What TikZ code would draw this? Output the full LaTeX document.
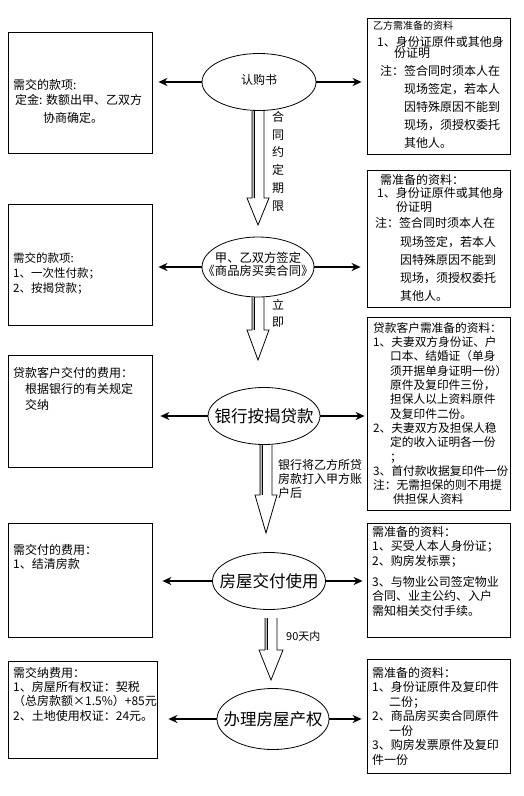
\documentclass[tikz,border=0pt]{standalone}
\usepackage{fontspec}
\setmainfont{Noto Sans CJK SC}
\usetikzlibrary{shapes.geometric}
\usetikzlibrary{arrows.meta}
\usetikzlibrary{calc}
\tikzstyle{box}=[draw, line width=0.8pt, inner sep=0pt]
\tikzstyle{stage}=[draw, ellipse, fill=white, line width=0.8pt, inner sep=0pt]
\tikzstyle{note}=[anchor=north west, align=left, inner sep=0pt]
\tikzstyle{tag}=[anchor=north, align=center, inner sep=0pt]
\tikzstyle{link}=[line width=1.5pt, -{Stealth[length=9pt, width=8pt]}]
\tikzstyle{hollow}=[line width=0.8pt]
\newcommand{\txtsize}[2]{\fontsize{#1}{#2}\selectfont}
\newcommand{\blockarrow}[4]{%
  \fill[gray!55] ($(#1)+(-6,0)$) rectangle ($(#2)+(-3.5,-#4)$);
  \draw[hollow] ($(#1)+(-6,0)$) -- ($(#2)+(-6,-#4)$) -- ($(#2)+(-#3,-#4)$) -- (#2)
    -- ($(#2)+(#3,-#4)$) -- ($(#2)+(6,-#4)$) -- ($(#1)+(6,0)$);
  \draw[hollow] ($(#1)+(-3.5,0)$) -- ($(#2)+(-3.5,-#4)$);
}

\begin{document}
\begin{tikzpicture}[x=1pt, y=-1pt]
  \useasboundingbox (0,0) rectangle (524,796);

  \node[box, minimum width=144pt, minimum height=121pt] (pay1) at (80,92.5) {};
  \node[box, minimum width=144pt, minimum height=121pt] (pay2) at (80,264.5) {};
  \node[box, minimum width=144pt, minimum height=112pt] (pay3) at (80,411) {};
  \node[box, minimum width=144pt, minimum height=114pt] (pay4) at (80,580) {};
  \node[box, minimum width=149pt, minimum height=97pt] (pay5) at (82.5,709.5) {};

  \node[box, minimum width=143pt, minimum height=136pt] (need1) at (438.5,86) {};
  \node[box, minimum width=143pt, minimum height=137pt] (need2) at (438.5,238.5) {};
  \node[box, minimum width=143pt, minimum height=193pt] (need3) at (438.5,413.5) {};
  \node[box, minimum width=143pt, minimum height=114pt] (need4) at (438.5,580) {};
  \node[box, minimum width=143pt, minimum height=114pt] (need5) at (438.5,716) {};

  \node[stage, minimum width=114pt, minimum height=57pt] (sub) at (259,82) {};
  \node[stage, minimum width=112pt, minimum height=60pt] (sign) at (258,267) {};
  \node[stage, minimum width=112pt, minimum height=57pt] (loan) at (264,416) {};
  \node[stage, minimum width=113pt, minimum height=57pt] (hand) at (269,581) {};
  \node[stage, minimum width=112pt, minimum height=61pt] (deed) at (273,719) {};

  \node[font=\txtsize{12}{14}, yshift=2pt] (subtxt) at (sub) {认购书};
  \node[align=center, font=\txtsize{12.3}{13}, yshift=3pt] (signtxt) at (sign) {甲、乙双方签定\\《商品房买卖合同》};
  \node[font=\txtsize{16.5}{18}] (loantxt) at (loan) {银行按揭贷款};
  \node[font=\txtsize{16.5}{18}] (handtxt) at (hand) {房屋交付使用};
  \node[font=\txtsize{16.5}{18}] (deedtxt) at (deed) {办理房屋产权};

  \draw[link, shorten >=6pt] (sub.west) -- (sub.west -| pay1.east);
  \draw[link, shorten >=5pt] (sub.east) -- (sub.east -| need1.west);
  \draw[link, shorten >=6pt] (sign.west) -- (sign.west -| pay2.east);
  \draw[link, shorten >=6pt] (sign.east) -- (sign.east -| need2.west);
  \draw[link, shorten >=8pt] (loan.west) -- (loan.west -| pay3.east);
  \draw[link, shorten >=2pt] (loan.east) -- (loan.east -| need3.west);
  \draw[link, shorten >=10pt] (hand.west) -- (hand.west -| pay4.east);
  \draw[link, shorten >=4pt] (hand.east) -- (hand.east -| need4.west);
  \draw[link, shorten >=11pt] (deed.west) -- (deed.west -| pay5.east);
  \draw[link, shorten >=5pt] (deed.east) -- (deed.east -| need5.west);

  \coordinate (a1t) at (258,225);
  \coordinate (a2t) at (258,360);
  \coordinate (a3t) at (266,533);
  \coordinate (a4t) at (271,680);
  \coordinate (a1s) at (sub.south -| a1t);
  \coordinate (a2s) at (sign.south -| a2t);
  \coordinate (a3s) at (loan.south -| a3t);
  \coordinate (a4s) at ($(hand.south -| a4t)+(0,8)$);
  \blockarrow{a1s}{a1t}{11}{27}
  \blockarrow{a2s}{a2t}{11}{30}
  \blockarrow{a3s}{a3t}{11}{38}
  \blockarrow{a4s}{a4t}{12}{30}

  \node[tag, font=\txtsize{12}{17.8}] (term) at (278,111) {合\\同\\约\\定\\期\\限};
  \node[tag, font=\txtsize{12}{17}] (now) at (278,299) {立\\即};
  \node[note, font=\txtsize{12}{14}] (transfer) at (278,459) {银行将乙方所贷\\房款打入甲方账\\户后};
  \node[note, font=\txtsize{11}{13}] (days) at (286,631.5) {90天内};

  \node[note, font=\txtsize{12}{16}] (pay1txt) at (13,79) {%
    需交的款项:\\[-1pt]
    \hspace*{2pt}定金: 数额出甲、乙双方\\[2pt]
    \hspace*{30pt}协商确定。};
  \node[note, font=\txtsize{11.5}{15}] (pay2txt) at (13,252.25) {%
    需交的款项:\\
    1、一次性付款；\\
    2、按揭贷款；};
  \node[note, font=\txtsize{12}{16}] (pay3txt) at (13,367) {%
    贷款客户交付的费用：\\
    \hspace*{12pt}根据银行的有关规定\\
    \hspace*{12pt}交纳};
  \node[note, font=\txtsize{12}{14.5}] (pay4txt) at (13,544) {%
    需交付的费用：\\
    1、结清房款};
  \node[note, font=\txtsize{12}{14.3}] (pay5txt) at (13,667) {%
    需交纳费用：\\
    1、房屋所有权证：契税\\
    （总房款额×1.5\%）+85元\\
    2、土地使用权证：24元。};

  \node[note, font=\txtsize{12}{18}] (need1txt) at (373,21) {%
    {\txtsize{10}{18}乙方需准备的资料}\\[-1.5pt]
    \hspace*{4pt}1、身份证原件或其他身\\[-7pt]
    \hspace*{21pt}份证明\\
    \hspace*{7pt}注：签合同时须本人在\\
    \hspace*{31pt}现场签定，若本人\\
    \hspace*{31pt}因特殊原因不能到\\
    \hspace*{31pt}现场，须授权委托\\
    \hspace*{31pt}其他人。};
  \node[note, font=\txtsize{12}{18.2}] (need2txt) at (375,174) {%
    \hspace*{5pt}需准备的资料：\\[-5pt]
    \hspace*{2pt}1、身份证原件或其他身\\[-4pt]
    \hspace*{21pt}份证明\\[-2pt]
    注：签合同时须本人在\\
    \hspace*{25pt}现场签定，若本人\\
    \hspace*{25pt}因特殊原因不能到\\
    \hspace*{25pt}现场，须授权委托\\
    \hspace*{25pt}其他人。};
  \node[note, font=\txtsize{11.7}{14.3}] (need3txt) at (373,322.2) {%
    贷款客户需准备的资料：\\
    1、夫妻双方身份证、户\\
    \hspace*{17pt}口本、结婚证（单身\\
    \hspace*{17pt}须开据单身证明一份）\\
    \hspace*{17pt}原件及复印件三份，\\
    \hspace*{17pt}担保人以上资料原件\\
    \hspace*{17pt}及复印件二份。\\
    2、夫妻双方及担保人稳\\
    \hspace*{17pt}定的收入证明各一份\\
    \hspace*{17pt}；\\
    3、首付款收据复印件一份\\
    注：无需担保的则不用提\\
    \hspace*{20pt}供担保人资料};
  \node[note, font=\txtsize{12}{14.5}] (need4txt) at (372,526) {%
    需准备的资料：\\
    1、买受人本人身份证；\\
    2、购房发标票；\\[6.5pt]
    3、与物业公司签定物业\\
    合同、业主公约、入户\\
    需知相关交付手续。};
  \node[note, font=\txtsize{12}{14.5}] (need5txt) at (372,667) {%
    需准备的资料：\\
    1、身份证原件及复印件\\
    \hspace*{17pt}二份；\\
    2、商品房买卖合同原件\\
    \hspace*{17pt}一份\\
    3、购房发票原件及复印\\
    件一份};
\end{tikzpicture}
\end{document}
